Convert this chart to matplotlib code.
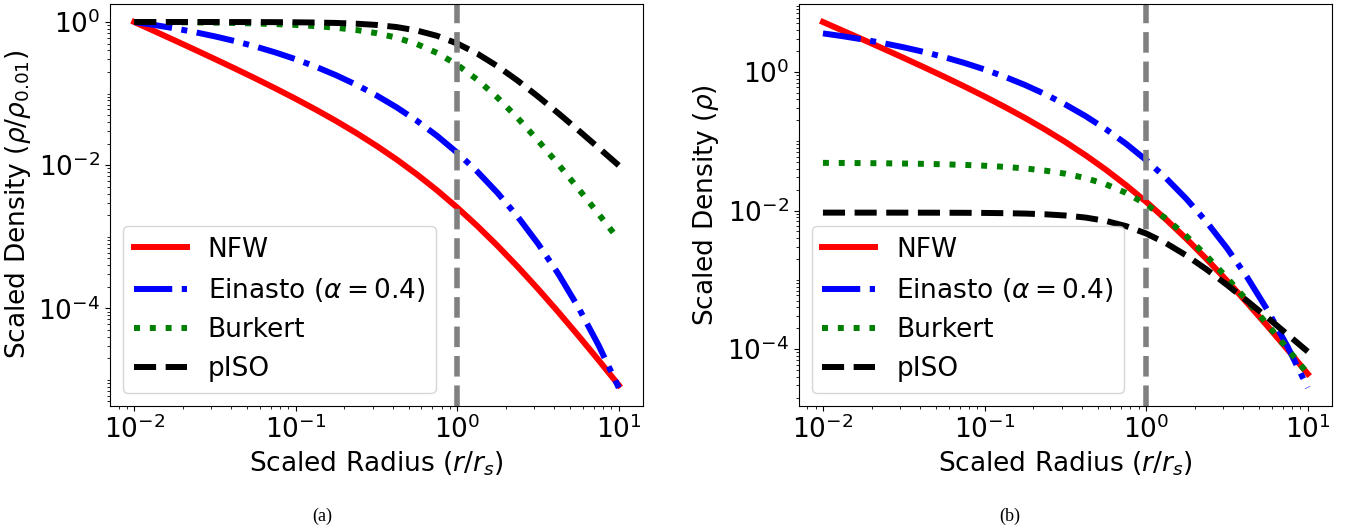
import numpy as np
import matplotlib
matplotlib.use("Agg")
import matplotlib.pyplot as plt
from matplotlib.ticker import LogLocator, FixedLocator, NullFormatter

# Scaled radius r/r_s
radius = [0.01, 0.0133352, 0.017783, 0.0237137, 0.031623, 0.0421697, 0.056234,
          0.0749894, 0.1, 0.133352, 0.177828, 0.237137, 0.316228, 0.421697,
          0.562341, 0.749894, 1.0, 1.333521, 1.778279, 2.371374, 3.162278,
          4.216965, 5.623413, 7.498942, 10.0]

# Panel (a): density normalised to its value at r = 0.01 r_s
nfw_a = [1.0, 0.744967, 0.5538, 0.410439, 0.3031, 0.222723, 0.16264, 0.117716,
         0.08430, 0.0595542, 0.04134, 0.0281064, 0.018616, 0.0119682, 0.0074316,
         0.00444242, 0.0025503, 0.00140482, 7.4316e-4, 3.78469e-4, 1.8616e-4,
         8.88801e-5, 4.134e-5, 1.88320e-5, 8.43e-6]
einasto_a = [1.0, 0.907835, 0.81450, 0.721147, 0.62908, 0.53970, 0.45444, 0.374705,
             0.30177, 0.236698, 0.18024, 0.132754, 0.094200, 0.064102, 0.041619,
             0.025635, 0.014883, 0.0080858, 0.0040779, 0.00189178, 7.9911e-4,
             3.03863e-4, 1.02685e-4, 3.03991e-5, 7.7566e-6]
burkert_a = [1.0, 0.996631, 0.992138, 0.986148, 0.978159, 0.967508, 0.953308, 0.934384,
             0.909182, 0.875680, 0.831308, 0.773016, 0.697656, 0.603220, 0.491200,
             0.369469, 0.252525, 0.155804, 0.087349, 0.0452350, 0.022062,
             0.0103083, 0.0046748, 0.00207657, 9.0918e-4]
piso_a = [1.0, 0.999922, 0.999784, 0.999538, 0.999101, 0.998325, 0.996947, 0.994507,
          0.990198, 0.982626, 0.969444, 0.946855, 0.909182, 0.849098, 0.759823,
          0.640129, 0.500050, 0.359971, 0.240277, 0.150994, 0.090918,
          0.0532456, 0.030656, 0.0174738, 0.0099020]

# Panel (b): scaled density
nfw_b = [5.2397, 3.9034, 2.9016, 2.15076, 1.5882, 1.16700, 0.8520, 0.616793,
         0.44174, 0.312045, 0.21666, 0.147270, 0.097563, 0.0627094, 0.038940,
         0.0232769, 0.013363, 0.00736081, 0.0038940, 0.00198305, 9.7563e-4,
         4.65707e-4, 2.1666e-4, 9.86778e-5, 4.4174e-5]
einasto_b = [3.5913, 3.26028, 2.9251, 2.58984, 2.2592, 1.93821, 1.6320, 1.34566,
             1.0838, 0.850074, 0.64729, 0.476784, 0.33830, 0.230214, 0.14947,
             0.092061, 0.05345, 0.0290396, 0.014645, 0.00679414, 0.0028699,
             0.00109129, 3.6877e-4, 1.09168e-4, 2.7856e-5]
burkert_b = [0.048716, 0.048552, 0.048334, 0.048041, 0.047652, 0.047133, 0.046442,
             0.045519, 0.044292, 0.042660, 0.040498, 0.037658, 0.033987, 0.029386,
             0.023930, 0.017999, 0.012302, 0.0075902, 0.0042553, 0.0022037,
             0.0010748, 5.0218e-4, 2.2774e-4, 1.01162e-4, 4.4291e-5]
piso_b = [0.0093295, 0.0093287, 0.0093275, 0.0093252, 0.0093211, 0.0093139, 0.0093010,
          0.0092783, 0.0092380, 0.0091674, 0.0090444, 0.0088337, 0.0084822, 0.0079216,
          0.0070887, 0.0059721, 0.0046652, 0.0033583, 0.0022416, 0.0014087,
          8.4822e-4, 4.9675e-4, 2.8601e-4, 1.63022e-4, 9.2380e-5]

y_major_ticks = [1e-4, 1e-2, 1e0]

labels = ["NFW", r"Einasto ($\alpha = 0.4$)", "Burkert", "pISO"]
styles = [("red", "-"), ("blue", "-."), ("green", ":"), ("black", "--")]
ylabels = [r"Scaled Density ($\rho/\rho_{0.01}$)", r"Scaled Density ($\rho$)"]
captions = ["(a)", "(b)"]

FS = 19
LW = 4.3

fig = plt.figure(figsize=(13.57, 5.32), dpi=100)
W, H = 1357.0, 532.0
axes_px = [(110, 643), (798.7, 1332)]
top_px, bot_px = 3.7, 406.0
caption_x = [322, 1010]

panels = [
    [nfw_a, einasto_a, burkert_a, piso_a],
    [nfw_b, einasto_b, burkert_b, piso_b],
]

for i, (series, (x0, x1)) in enumerate(zip(panels, axes_px)):
    ax = fig.add_axes([x0 / W, (H - bot_px) / H, (x1 - x0) / W, (bot_px - top_px) / H])
    for vals, lab, (col, ls) in zip(series, labels, styles):
        ax.plot(radius, vals, color=col, linestyle=ls, linewidth=LW, label=lab)
    ax.axvline(1.0, color="gray", linestyle="--", linewidth=4)
    ax.set_xscale("log")
    ax.set_yscale("log")
    ax.yaxis.set_major_locator(FixedLocator(y_major_ticks))
    ax.yaxis.set_minor_locator(LogLocator(base=10, subs=np.arange(1, 10), numticks=30))
    ax.yaxis.set_minor_formatter(NullFormatter())
    ax.set_xlabel(r"Scaled Radius ($r/r_s$)", fontsize=FS)
    ax.set_ylabel(ylabels[i], fontsize=FS)
    ax.tick_params(axis="both", which="major", labelsize=FS)
    ax.legend(loc="lower left", fontsize=FS)
    fig.text(caption_x[i] / W, 1 - 516 / H, captions[i], ha="center", va="center",
             family="Liberation Serif", fontsize=13)

fig.savefig("out.png", dpi=100)
